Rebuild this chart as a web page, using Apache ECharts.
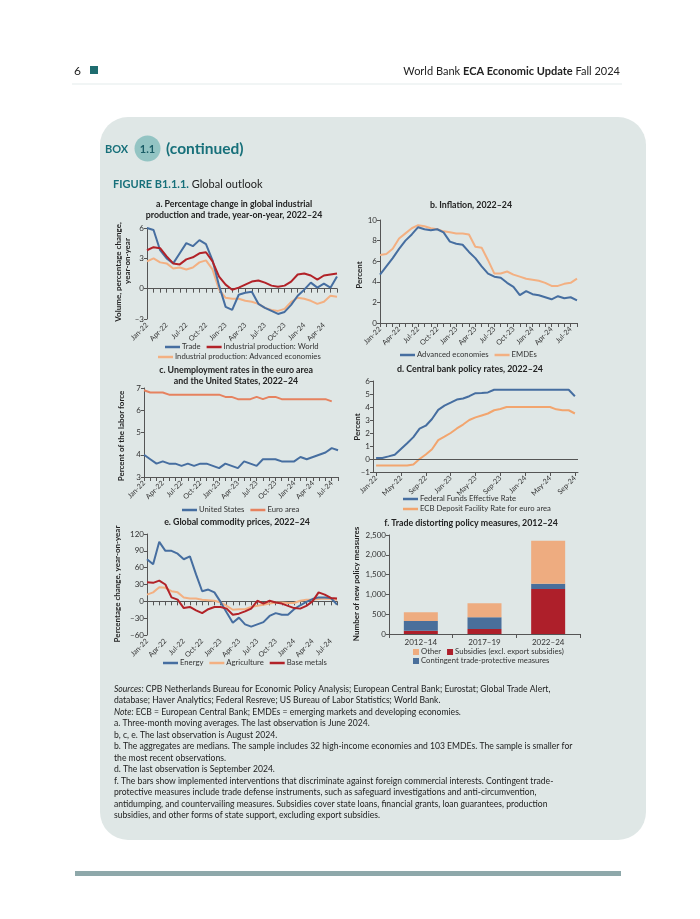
<!DOCTYPE html>
<html><head><meta charset="utf-8">
<script src="https://cdn.jsdelivr.net/npm/echarts@6/dist/echarts.min.js"></script>
<style>html,body{margin:0;padding:0;background:#fff}#c{width:700px;height:919px}</style>
</head><body><div id="c"></div>
<script>
// ---------- DATA ----------
const months = ['Jan-22','Feb-22','Mar-22','Apr-22','May-22','Jun-22','Jul-22','Aug-22','Sep-22','Oct-22','Nov-22','Dec-22',
  'Jan-23','Feb-23','Mar-23','Apr-23','May-23','Jun-23','Jul-23','Aug-23','Sep-23','Oct-23','Nov-23','Dec-23',
  'Jan-24','Feb-24','Mar-24','Apr-24','May-24','Jun-24','Jul-24','Aug-24','Sep-24'];
const monthsA = months.slice(0, 30);   // Jan-22 .. Jun-24
const monthsB = months.slice(0, 32);   // Jan-22 .. Aug-24
const monthsD = months.slice(0, 33);   // Jan-22 .. Sep-24

// a. Industrial production and trade (% y/y)
const tradeA = [6.0, 5.8, 3.8, 3.0, 2.5, 3.5, 4.5, 4.2, 4.8, 4.4, 2.8, 0.3, -1.8, -2.1, -0.6, -0.4, -0.3, -1.5, -1.9, -2.2, -2.5, -2.3, -1.6, -0.7, -0.1, 0.6, 0.1, 0.5, 0.1, 1.2];
const ipWorldA = [3.8, 4.1, 4.0, 3.2, 2.5, 2.4, 2.9, 3.1, 3.5, 3.6, 2.7, 1.2, 0.4, -0.1, 0.1, 0.4, 0.7, 0.8, 0.6, 0.3, 0.2, 0.3, 0.7, 1.4, 1.5, 1.3, 0.9, 1.3, 1.4, 1.5];
const ipAdvA = [2.7, 3.0, 2.6, 2.5, 2.0, 2.1, 1.9, 2.1, 2.6, 2.8, 1.9, -0.1, -0.9, -1.0, -1.0, -1.2, -1.3, -1.5, -1.9, -2.1, -2.2, -2.0, -1.3, -0.9, -1.0, -1.2, -1.5, -1.3, -0.7, -0.8];

// b. Inflation (%)
const advB = [4.7, 5.5, 6.3, 7.2, 8.0, 8.6, 9.3, 9.1, 9.0, 9.1, 8.8, 7.9, 7.7, 7.6, 6.9, 6.3, 5.5, 4.8, 4.5, 4.4, 3.9, 3.5, 2.7, 3.1, 2.8, 2.7, 2.5, 2.3, 2.6, 2.4, 2.5, 2.2];
const emdeB = [6.6, 6.7, 7.2, 8.2, 8.7, 9.2, 9.5, 9.4, 9.2, 9.1, 8.9, 8.8, 8.7, 8.7, 8.6, 7.4, 7.3, 6.1, 4.8, 4.8, 5.0, 4.7, 4.5, 4.3, 4.2, 4.1, 3.9, 3.6, 3.6, 3.8, 3.9, 4.3];

// c. Unemployment (% of labor force)
const usC = [4.0, 3.8, 3.6, 3.7, 3.6, 3.6, 3.5, 3.6, 3.5, 3.6, 3.6, 3.5, 3.4, 3.6, 3.5, 3.4, 3.7, 3.6, 3.5, 3.8, 3.8, 3.8, 3.7, 3.7, 3.7, 3.9, 3.8, 3.9, 4.0, 4.1, 4.3, 4.2];
const euroC = [6.9, 6.8, 6.8, 6.8, 6.7, 6.7, 6.7, 6.7, 6.7, 6.7, 6.7, 6.7, 6.7, 6.6, 6.6, 6.5, 6.5, 6.5, 6.6, 6.5, 6.6, 6.6, 6.5, 6.5, 6.5, 6.5, 6.5, 6.5, 6.5, 6.5, 6.4];

// d. Policy rates (%)
const fedD = [0.08, 0.08, 0.20, 0.33, 0.77, 1.21, 1.68, 2.33, 2.56, 3.08, 3.78, 4.10, 4.33, 4.57, 4.65, 4.83, 5.06, 5.08, 5.12, 5.33, 5.33, 5.33, 5.33, 5.33, 5.33, 5.33, 5.33, 5.33, 5.33, 5.33, 5.33, 5.33, 4.83];
const ecbD = [-0.5, -0.5, -0.5, -0.5, -0.5, -0.5, -0.42, 0.0, 0.35, 0.75, 1.45, 1.72, 2.0, 2.35, 2.65, 3.0, 3.2, 3.35, 3.5, 3.75, 3.85, 4.0, 4.0, 4.0, 4.0, 4.0, 4.0, 4.0, 4.0, 3.82, 3.75, 3.75, 3.5];

// e. Commodity prices (% y/y)
const energyE = [75, 66, 106, 90, 90, 85, 75, 80, 48, 18, 21, 16, -1, -20, -38, -29, -41, -45, -41, -37, -26, -21, -24, -24, -14, -7, -1, 4, 7, 7, 6, -6];
const agriE = [12, 16, 25, 24, 18, 16, 7, 5, 5, 3, 2, 1, -2, -8, -15, -14, -14, -10, -8, -6, -4, -2, -2, -3, -3, 1, 3, 3, 4, 5, 4, 3];
const metalsE = [34, 33, 37, 30, 7, 3, -12, -10, -16, -21, -14, -10, -10, -13, -24, -22, -18, -13, 1, -4, 1, -2, -4, -8, -12, -13, -8, 0, 16, 12, 6, 5];

// f. Trade distorting measures (number)
const periodsF = ['2012–14', '2017–19', '2022–24'];
const subsidiesF = [80, 125, 1135];
const contingentF = [250, 295, 135];
const otherF = [220, 355, 1085];

// tick values
const ticksA = [-3, 0, 3, 6];
const ticksB = [0, 2, 4, 6, 8, 10];
const ticksC = [3, 4, 5, 6, 7];
const ticksD = [-1, 0, 1, 2, 3, 4, 5, 6];
const ticksE = [-60, -30, 0, 30, 60, 90, 120];
const ticksF = [0, 500, 1000, 1500, 2000, 2500];

// ---------- STYLE ----------
const FONT = 'Lato';
const AX = '#555555';
const TXT = '#333333';
const TEAL = '#17707a';
const BLUE = '#466ea0', RED = '#b22228', ORANGE = '#f3b082', SALMON = '#e6825f', ORANGE_D = '#f2a56e';
const F_OTHER = '#eeac80', F_SUB = '#ae1f2a', F_CONT = '#4a6f9b';

const minus = v => (v < 0 ? '–' + Math.abs(v) : String(v));

function yAx(gi, ticks, fmt) {
  return {
    type: 'value', gridIndex: gi,
    min: ticks[0], max: ticks[ticks.length - 1], interval: ticks[1] - ticks[0],
    axisLine: { show: true, onZero: false, lineStyle: { color: AX, width: 1 } },
    axisTick: { show: true, length: 3, lineStyle: { color: AX } },
    axisLabel: { fontFamily: FONT, fontSize: 8, color: TXT, margin: 3, formatter: fmt || minus },
    splitLine: { show: false }
  };
}
function xLabels(gi, data, interval, boundaryGap) {
  return {
    type: 'category', gridIndex: gi, data, boundaryGap: !!boundaryGap, position: 'bottom',
    axisLine: { show: false, onZero: false },
    axisTick: { show: false },
    axisLabel: { interval, rotate: 45, fontFamily: FONT, fontSize: 7.2, color: TXT, margin: 5 },
    splitLine: { show: false }
  };
}
function xLine(gi, data, tickInterval, onZero, boundaryGap) {
  return {
    type: 'category', gridIndex: gi, data, boundaryGap: !!boundaryGap, position: 'bottom',
    axisLine: { show: true, onZero: !!onZero, lineStyle: { color: AX, width: 1 } },
    axisTick: { show: true, interval: tickInterval, length: 4, alignWithLabel: true, lineStyle: { color: AX } },
    axisLabel: { show: false },
    splitLine: { show: false }
  };
}
function line(name, data, xi, yi, color, extra) {
  return Object.assign({
    type: 'line', name, data, xAxisIndex: xi, yAxisIndex: yi,
    symbol: 'none', showSymbol: false, smooth: false,
    lineStyle: { width: 2, color }, itemStyle: { color }, z: 3
  }, extra || {});
}
function legend(names, left, top, opts) {
  return Object.assign({
    data: names, left, top, orient: 'horizontal', padding: 0,
    icon: 'rect', itemWidth: 15, itemHeight: 2.5, itemGap: 6,
    selectedMode: false,
    textStyle: { fontFamily: FONT, fontSize: 7.7, color: TXT, padding: [0, 0, 0, -3] }
  }, opts || {});
}
function txt(x, y, text, o) {
  o = o || {};
  return {
    type: 'text', x, y, rotation: o.rot || 0, silent: true, z: 10,
    style: {
      x: 0, y: 0, text,
      fill: o.fill || '#222',
      fontFamily: FONT, fontSize: o.size || 8.3, fontWeight: o.weight || 'normal',
      textAlign: o.align || 'left', align: o.align || 'left',
      textVerticalAlign: 'middle', verticalAlign: 'middle',
      lineHeight: o.lh || 11,
      rich: o.rich
    }
  };
}
const rot = Math.PI / 2;

// ---------- GRAPHICS ----------
const notes = [
  '{i|Sources:} CPB Netherlands Bureau for Economic Policy Analysis; European Central Bank; Eurostat; Global Trade Alert,',
  'database; Haver Analytics; Federal Resreve; US Bureau of Labor Statistics; World Bank.',
  '{i|Note:} ECB = European Central Bank; EMDEs = emerging markets and developing economies.',
  'a. Three-month moving averages. The last observation is June 2024.',
  'b, c, e. The last observation is August 2024.',
  'b. The aggregates are medians. The sample includes 32 high-income economies and 103 EMDEs. The sample is smaller for',
  'the most recent observations.',
  'd. The last observation is September 2024.',
  'f. The bars show implemented interventions that discriminate against foreign commercial interests. Contingent trade-',
  'protective measures include trade defense instruments, such as safeguard investigations and anti-circumvention,',
  'antidumping, and countervailing measures. Subsidies cover state loans, financial grants, loan guarantees, production',
  'subsidies, and other forms of state support, excluding export subsidies.'
];
const NOTE_SIZE = 8.6;
const richNote = { i: { fontStyle: 'italic', fontFamily: FONT, fontSize: NOTE_SIZE, fill: '#222' } };

const graphics = [
  { type: 'rect', silent: true, z: -10, shape: { x: 100, y: 117, width: 546, height: 723, r: 28 }, style: { fill: '#dfe7e6' } },
  { type: 'rect', silent: true, z: -10, shape: { x: 75, y: 871, width: 546, height: 5 }, style: { fill: '#8ea8aa' } },
  { type: 'line', silent: true, z: -10, shape: { x1: 72, y1: 84, x2: 622, y2: 84 }, style: { stroke: '#e3ebeb', lineWidth: 1 } },
  txt(74, 71, '6', { size: 12, fill: '#222' }),
  { type: 'rect', silent: true, shape: { x: 90, y: 66, width: 8, height: 8 }, style: { fill: '#1f6d70' } },
  txt(620, 71, '{n|World Bank }{b|ECA Economic Update}{n| Fall 2024}', {
    align: 'right', size: 11,
    rich: { n: { fontFamily: FONT, fontSize: 11, fill: '#222' }, b: { fontFamily: FONT, fontSize: 11, fontWeight: 'bold', fill: '#222' } }
  }),
  txt(105, 149, 'BOX', { size: 11, weight: 'bold', fill: TEAL }),
  { type: 'circle', silent: true, shape: { cx: 147.5, cy: 148.5, r: 13 }, style: { fill: '#93c4c3' } },
  txt(147.5, 149, '1.1', { size: 11, weight: 'bold', fill: '#1b5e67', align: 'center' }),
  txt(166, 149, '(continued)', { size: 15.5, weight: 'bold', fill: TEAL }),
  txt(113, 184, '{b|FIGURE B1.1.1.}{n| Global outlook}', {
    size: 11,
    rich: { b: { fontFamily: FONT, fontSize: 11, fontWeight: 'bold', fill: TEAL }, n: { fontFamily: FONT, fontSize: 11, fill: '#222' } }
  }),
  // panel titles
  txt(234, 210, 'a. Percentage change in global industrial\nproduction and trade, year-on-year, 2022–24', { size: 8.8, weight: 'bold', align: 'center', lh: 11 }),
  txt(471, 205, 'b. Inflation, 2022–24', { size: 8.8, weight: 'bold', align: 'center' }),
  txt(236, 376, 'c. Unemployment rates in the euro area\nand the United States, 2022–24', { size: 8.8, weight: 'bold', align: 'center', lh: 11 }),
  txt(470, 369, 'd. Central bank policy rates, 2022–24', { size: 8.8, weight: 'bold', align: 'center' }),
  txt(237, 522, 'e. Global commodity prices, 2022–24', { size: 8.8, weight: 'bold', align: 'center' }),
  txt(471, 523, 'f. Trade distorting policy measures, 2012–24', { size: 8.8, weight: 'bold', align: 'center' }),
  // y-axis names
  txt(118, 272, 'Volume, percentage change,', { size: 8, weight: 'bold', align: 'center', rot }),
  txt(127, 261, 'year-on-year', { size: 8, weight: 'bold', align: 'center', rot }),
  txt(359, 275, 'Percent', { size: 8, weight: 'bold', align: 'center', rot }),
  txt(121, 436, 'Percent of the labor force', { size: 8, weight: 'bold', align: 'center', rot }),
  txt(357, 427, 'Percent', { size: 8, weight: 'bold', align: 'center', rot }),
  txt(117, 584, 'Percentage change, year-on-year', { size: 8, weight: 'bold', align: 'center', rot }),
  txt(356, 584, 'Number of new policy measures', { size: 8, weight: 'bold', align: 'center', rot })
];
notes.forEach((t, i) => graphics.push(txt(114, 689 + i * 11.5, t, { size: NOTE_SIZE, rich: richNote })));

// ---------- OPTION ----------
const option = {
  animation: false,
  backgroundColor: '#ffffff',
  textStyle: { fontFamily: FONT },
  grid: [
    { left: 147, top: 228, width: 190, height: 91, containLabel: false, outerBoundsMode: 'none' },
    { left: 380, top: 220, width: 197, height: 103, containLabel: false, outerBoundsMode: 'none' },
    { left: 144, top: 388, width: 194, height: 89, containLabel: false, outerBoundsMode: 'none' },
    { left: 373, top: 381, width: 205, height: 91, containLabel: false, outerBoundsMode: 'none' },
    { left: 147, top: 534, width: 190, height: 101, containLabel: false, outerBoundsMode: 'none' },
    { left: 389, top: 535, width: 191, height: 99, containLabel: false, outerBoundsMode: 'none' }
  ],
  xAxis: [
    xLabels(0, monthsA, 2),            // 0 a labels
    xLine(0, monthsA, 0, true),        // 1 a zero line
    xLabels(1, monthsB, 2),            // 2 b labels
    xLine(1, monthsB, 0, false),       // 3 b line
    xLabels(2, monthsB, 2),            // 4 c labels
    xLine(2, monthsB, 0, false),       // 5 c line
    xLabels(3, monthsD, 3, true),      // 6 d labels
    xLine(3, monthsD, 3, false, true), // 7 d line
    xLabels(4, monthsB, 2),            // 8 e labels
    xLine(4, monthsB, 0, true),        // 9 e zero line
    {                                  // 10 f
      type: 'category', gridIndex: 5, data: periodsF, position: 'bottom',
      axisLine: { show: true, onZero: false, lineStyle: { color: AX } },
      axisTick: { show: true, length: 4, lineStyle: { color: AX } },
      axisLabel: { fontFamily: FONT, fontSize: 8, color: TXT, margin: 4 }
    }
  ],
  yAxis: [
    yAx(0, ticksA), yAx(1, ticksB), yAx(2, ticksC), yAx(3, ticksD), yAx(4, ticksE),
    yAx(5, ticksF, v => Number(v).toLocaleString('en-US'))
  ],
  legend: [
    legend(['Trade', 'Industrial production: World'], 165, 343),
    legend(['Industrial production: Advanced economies'], 158, 353),
    legend(['Advanced economies', 'EMDEs'], 400, 351),
    legend(['United States', 'Euro area'], 182, 506),
    legend(['Federal Funds Effective Rate'], 403, 495),
    legend(['ECB Deposit Facility Rate for euro area'], 403, 505),
    legend(['Energy', 'Agriculture', 'Base metals'], 163, 659),
    legend(['Other', 'Subsidies (excl. export subsidies)'], 413, 648, { itemWidth: 6, itemHeight: 6 }),
    legend(['Contingent trade-protective measures'], 413, 657, { itemWidth: 6, itemHeight: 6 })
  ],
  series: [
    line('Trade', tradeA, 1, 0, BLUE),
    line('Industrial production: World', ipWorldA, 1, 0, RED),
    line('Industrial production: Advanced economies', ipAdvA, 1, 0, ORANGE, { z: 2 }),

    line('Advanced economies', advB, 3, 1, BLUE),
    line('EMDEs', emdeB, 3, 1, ORANGE, { z: 2 }),

    line('United States', usC, 5, 2, BLUE),
    line('Euro area', euroC, 5, 2, SALMON),

    line('Federal Funds Effective Rate', fedD, 7, 3, BLUE, {
      markLine: { silent: true, symbol: ['none', 'none'], label: { show: false },
        lineStyle: { color: AX, width: 1, type: 'solid' }, data: [{ yAxis: 0 }] }
    }),
    line('ECB Deposit Facility Rate for euro area', ecbD, 7, 3, ORANGE_D),

    line('Energy', energyE, 9, 4, BLUE),
    line('Agriculture', agriE, 9, 4, ORANGE, { z: 2 }),
    line('Base metals', metalsE, 9, 4, RED),

    { type: 'bar', name: 'Subsidies (excl. export subsidies)', data: subsidiesF, stack: 'f', xAxisIndex: 10, yAxisIndex: 5, barWidth: 34, itemStyle: { color: F_SUB } },
    { type: 'bar', name: 'Contingent trade-protective measures', data: contingentF, stack: 'f', xAxisIndex: 10, yAxisIndex: 5, barWidth: 34, itemStyle: { color: F_CONT } },
    { type: 'bar', name: 'Other', data: otherF, stack: 'f', xAxisIndex: 10, yAxisIndex: 5, barWidth: 34, itemStyle: { color: F_OTHER } }
  ],
  graphic: { elements: graphics }
};

const chart = echarts.init(document.getElementById('c'), null, { renderer: 'canvas', width: 700, height: 919 });
chart.setOption(option);
</script>
</body></html>
